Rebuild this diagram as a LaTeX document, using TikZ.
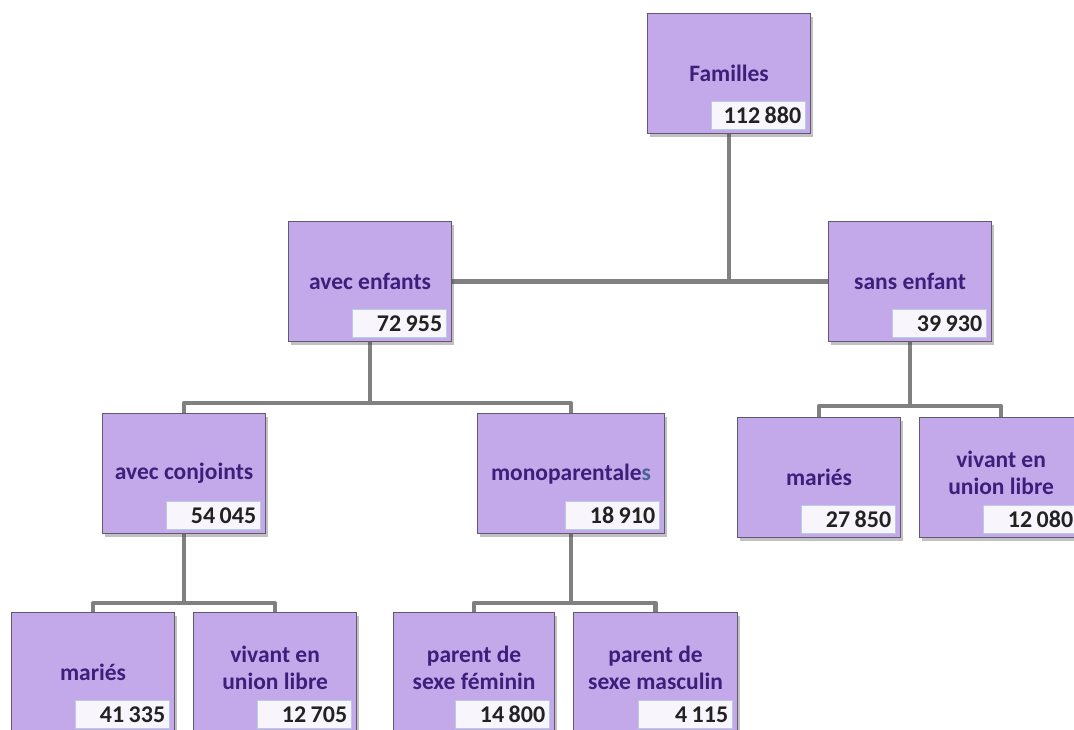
\documentclass[tikz,border=0pt]{standalone}
\usepackage{fontspec}
\setmainfont{Carlito}
\usepackage{tikz}
\usetikzlibrary{positioning,shadows,backgrounds}
\definecolor{boxfill}{RGB}{195,168,234}
\definecolor{boxline}{RGB}{96,90,112}
\definecolor{labtxt}{RGB}{62,30,122}
\definecolor{numfill}{RGB}{248,246,252}
\definecolor{numline}{RGB}{184,204,228}
\definecolor{numtxt}{RGB}{34,34,34}
\definecolor{linkgray}{RGB}{128,128,128}
\definecolor{odds}{RGB}{70,100,150}
\newcommand\nb[2]{#1\kern4.5pt#2}
\tikzset{
famille/.style={draw=boxline,line width=1.2pt,fill=boxfill,anchor=north west,
  minimum width=163pt,minimum height=120pt,inner sep=2pt,align=center,text=labtxt,
  font=\fontsize{23.5}{27}\selectfont\bfseries,
  drop shadow={shadow xshift=2pt,shadow yshift=-3pt,opacity=.35,fill=black!70}},
deux/.style={text depth=10pt},
num/.style={draw=numline,line width=1pt,fill=numfill,text=numtxt,
  text width=85pt,align=right,inner xsep=4.5pt,inner ysep=0pt,minimum height=28pt,
  font=\fontsize{24}{27}\selectfont\bfseries},
link/.style={draw=linkgray,line width=4.5pt,line join=round}
}
\begin{document}
\begin{tikzpicture}[x=1pt,y=-1pt]
\useasboundingbox (0,0) rectangle (1074,729);
\clip (0,0) rectangle (1074,729);
% niveau 1
\node[famille] (fam) at (647,13) {Familles};
\node[num,above left=4pt and 5pt of fam.south east] (famn) {\nb{112}{880}};
% niveau 2
\node[famille] (ae) at (288,221) {avec enfants};
\node[num,above left=4pt and 5pt of ae.south east] (aen) {\nb{72}{955}};
\node[famille] (se) at (828,221) {sans enfant};
\node[num,above left=4pt and 5pt of se.south east] (sen) {\nb{39}{930}};
% niveau 3
\node[famille] (ac) at (102,413) {avec conjoints};
\node[num,above left=4pt and 5pt of ac.south east] (acn) {\nb{54}{045}};
\node[famille,minimum width=187pt] (mono) at (477,413) {monoparentale\textcolor{odds}{s}};
\node[num,above left=4pt and 5pt of mono.south east] (monon) {\nb{18}{910}};
\node[famille] (sm) at (737,417) {mariés};
\node[num,above left=4pt and 5pt of sm.south east] (smn) {\nb{27}{850}};
\node[famille,deux] (sv) at (919,417) {vivant en\\union libre};
\node[num,above left=4pt and 5pt of sv.south east] (svn) {\nb{12}{080}};
% niveau 4
\node[famille] (am) at (11,612) {mariés};
\node[num,above left=4pt and 5pt of am.south east] (amn) {\nb{41}{335}};
\node[famille,deux] (av) at (193,612) {vivant en\\union libre};
\node[num,above left=4pt and 5pt of av.south east] (avn) {\nb{12}{705}};
\node[famille,deux,minimum width=161pt] (pf) at (393,612) {parent de\\sexe féminin};
\node[num,above left=4pt and 5pt of pf.south east] (pfn) {\nb{14}{800}};
\node[famille,deux,minimum width=164pt] (pm) at (573,612) {parent de\\sexe masculin};
\node[num,above left=4pt and 5pt of pm.south east] (pmn) {\nb{4}{115}};
% liens
\begin{scope}[on background layer]
\draw[link] (fam.south) |- (ae.east);
\draw[link] (fam.south) |- (se.west);
\draw[link] (ae.south) |- ([yshift=10pt]ac.north) -- (ac.north);
\draw[link] (ae.south) |- ([yshift=10pt]mono.north) -- (mono.north);
\draw[link] (se.south) |- ([yshift=11pt]sm.north) -- (sm.north);
\draw[link] (se.south) |- ([yshift=11pt]sv.north) -- (sv.north);
\draw[link] (ac.south) |- ([yshift=9pt]am.north) -- (am.north);
\draw[link] (ac.south) |- ([yshift=9pt]av.north) -- (av.north);
\draw[link] (mono.south) |- ([yshift=9pt]pf.north) -- (pf.north);
\draw[link] (mono.south) |- ([yshift=9pt]pm.north) -- (pm.north);
\end{scope}
\end{tikzpicture}
\end{document}
